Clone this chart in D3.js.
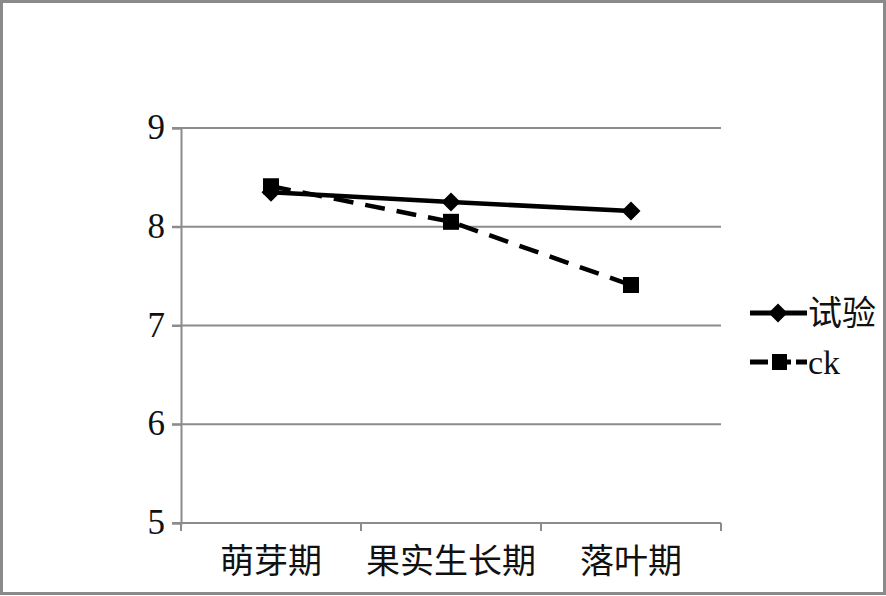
<!DOCTYPE html>
<html><head><meta charset="utf-8">
<script src="https://cdn.jsdelivr.net/npm/d3@7"></script>
<style>body{margin:0;background:#fff}svg{display:block}</style>
</head><body>
<script>
const categories = ["萌芽期", "果实生长期", "落叶期"];
const seriesNames = ["试验", "ck"];
const trialValues = [8.35, 8.25, 8.16];
const ckValues = [8.41, 8.05, 7.41];
const yTicks = [5, 6, 7, 8, 9];

const W = 886, H = 596;
const svg = d3.select("body").append("svg").attr("width", W).attr("height", H);
svg.append("rect").attr("x", 1.5).attr("y", 1.5).attr("width", W - 3).attr("height", H - 4)
  .attr("fill", "#fff").attr("stroke", "#8a8a8a").attr("stroke-width", 3);

const plotL = 181, plotR = 721, plotT = 128, plotB = 523;
const x = d3.scaleBand().domain(categories).range([plotL, plotR]);
const y = d3.scaleLinear().domain([5, 9]).range([plotB, plotT]);
const serif = "'Liberation Serif','Times New Roman','Noto Sans CJK SC',serif";

// gridlines
svg.append("g").selectAll("line").data(yTicks.filter(d => d !== 5)).join("line")
  .attr("x1", plotL - 9).attr("x2", plotR).attr("y1", d => y(d)).attr("y2", d => y(d))
  .attr("stroke", "#8c8c8c").attr("stroke-width", 2);

// y axis
const yAxis = svg.append("g").attr("transform", `translate(${plotL},0)`)
  .call(d3.axisLeft(y).tickValues(yTicks).tickSize(9).tickPadding(7).tickFormat(d3.format("d")));
yAxis.select(".domain").attr("stroke", "#8c8c8c").attr("stroke-width", 2);
yAxis.selectAll(".tick line").attr("stroke", "#8c8c8c").attr("stroke-width", 2);
yAxis.selectAll("text").attr("font-family", serif).attr("font-size", 35).attr("fill", "#111").attr("dy", "0.3em");

// x axis
const xAxis = svg.append("g").attr("transform", `translate(0,${plotB})`)
  .call(d3.axisBottom(x).tickSize(0).tickPadding(0));
xAxis.select(".domain").attr("stroke", "#8c8c8c").attr("stroke-width", 2).attr("d", `M${plotL - 9},0H${plotR}`);
xAxis.selectAll(".tick text").attr("font-family", serif).attr("font-size", 34).attr("fill", "#111").attr("y", 50).attr("dy", 0);
const bounds = categories.map(c => x(c)).concat([plotR]);
xAxis.append("g").selectAll("line").data(bounds).join("line")
  .attr("x1", d => d).attr("x2", d => d).attr("y1", 0).attr("y2", 8)
  .attr("stroke", "#8c8c8c").attr("stroke-width", 2);

const cx = c => x(c) + x.bandwidth() / 2;
const line = d3.line().x((d, i) => cx(categories[i])).y(d => y(d));

// ck series (dashed, squares)
svg.append("path").datum(ckValues).attr("d", line).attr("fill", "none")
  .attr("stroke", "#000").attr("stroke-width", 4.5).attr("stroke-dasharray", "20,12");
svg.append("g").selectAll("rect").data(ckValues).join("rect")
  .attr("x", (d, i) => cx(categories[i]) - 8).attr("y", d => y(d) - 8)
  .attr("width", 16).attr("height", 16).attr("fill", "#000");

// trial series (solid, diamonds)
svg.append("path").datum(trialValues).attr("d", line).attr("fill", "none")
  .attr("stroke", "#000").attr("stroke-width", 4.5);
const diamond = d3.symbol().type(d3.symbolDiamond2).size(230);
svg.append("g").selectAll("path").data(trialValues).join("path")
  .attr("d", diamond).attr("transform", (d, i) => `translate(${cx(categories[i])},${y(d)})`).attr("fill", "#000");

// legend
const legend = svg.append("g");
const ly = [313, 362];
seriesNames.forEach((name, i) => {
  legend.append("line").attr("x1", 750).attr("x2", 807).attr("y1", ly[i]).attr("y2", ly[i])
    .attr("stroke", "#000").attr("stroke-width", 5).attr("stroke-dasharray", i === 1 ? "18,5" : null);
  if (i === 0) {
    legend.append("path").attr("d", diamond).attr("transform", `translate(778,${ly[i]})`).attr("fill", "#000");
  } else {
    legend.append("rect").attr("x", 772).attr("y", ly[i] - 8).attr("width", 15).attr("height", 16).attr("fill", "#000");
  }
  legend.append("text").attr("x", 808).attr("y", ly[i]).attr("dy", "0.36em")
    .attr("font-family", serif).attr("font-size", 34).attr("fill", "#111").text(name);
});
</script>
</body></html>
